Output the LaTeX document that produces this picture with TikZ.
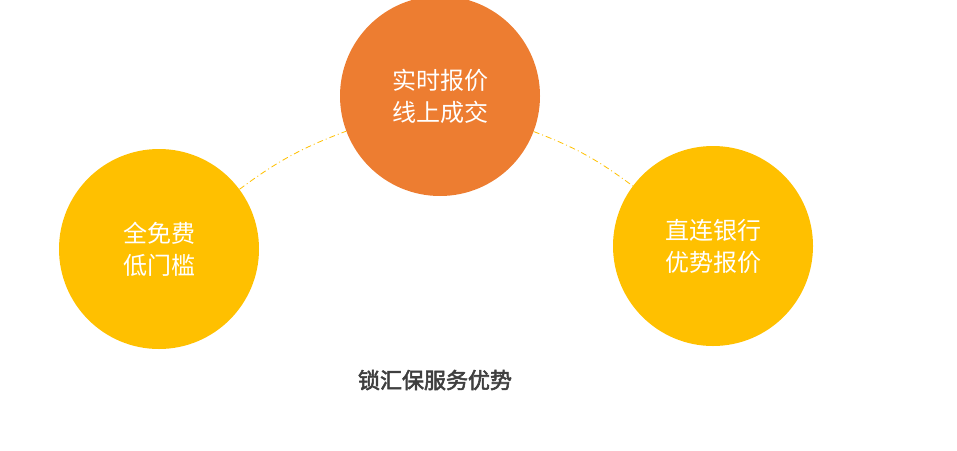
\documentclass[tikz,border=0pt]{standalone}
\usepackage{fontspec}
\newfontfamily\cjk{Noto Sans CJK SC}
\newfontfamily\cjkbold[FakeBold=2.5]{Noto Sans CJK SC}
\usetikzlibrary{positioning}
\definecolor{gold}{HTML}{FFC000}
\definecolor{tangerine}{HTML}{ED7D31}
\definecolor{title}{HTML}{3F3F3F}

\begin{document}
\begin{tikzpicture}[x=1pt,y=-1pt,
	bubble/.style={circle, minimum size=200pt, inner sep=0pt, text=white,
		align=center, font=\cjk\fontsize{24}{32}\selectfont},
	link/.style={gold, thick, dash pattern=on 6pt off 3pt on 1pt off 3pt}]

	\useasboundingbox (0,0) rectangle (957,450);

	% circles
	\node[bubble, fill=gold] (free) at (159,249) {全免费\\低门槛};
	\node[bubble, fill=tangerine] (live) at (440,96) {实时报价\\线上成交};
	\node[bubble, fill=gold] (bank) at (713,246) {直连银行\\优势报价};

	% links
	\draw[link] (free) to[bend left=8] (live);
	\draw[link] (live) to[bend left=8] (bank);

	\node[text=title, font=\cjkbold\fontsize{22}{26}\selectfont] (caption) at (435,380)
		{锁汇保服务优势};

\end{tikzpicture}
\end{document}
